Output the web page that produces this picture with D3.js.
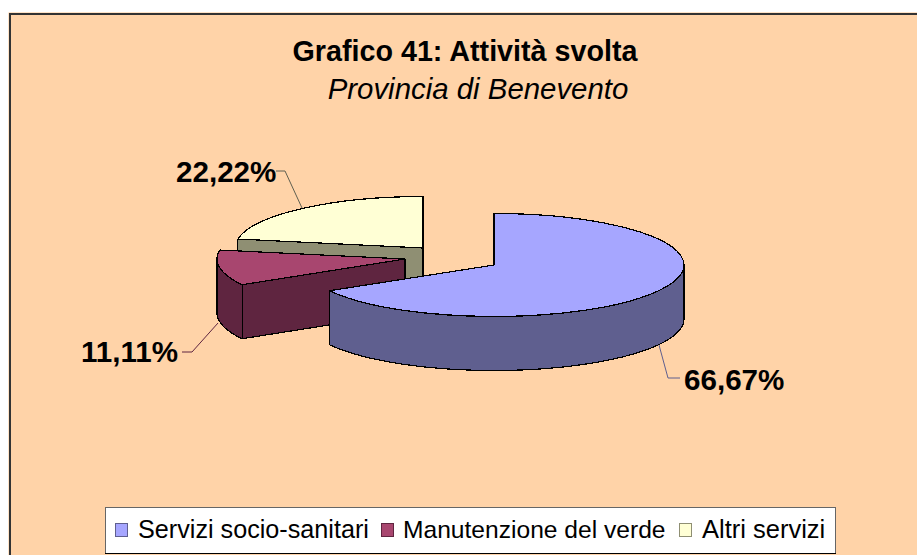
<!DOCTYPE html>
<html lang="en">
<head>
<meta charset="UTF-8">
<title>Grafico 41</title>
<script src="https://cdn.jsdelivr.net/npm/d3@7"></script>
<style>
	html, body { margin: 0; padding: 0; background: #fff; }
	svg { display: block; font-family: "Liberation Sans", Arial, sans-serif; }
</style>
</head>
<body>
<svg id="viz" width="917" height="555"></svg>
<script>
// Data
const categories = ['Servizi socio-sanitari', 'Manutenzione del verde', 'Altri servizi'];
const shares = [66.67, 11.11, 22.22];
const shareLabels = ['66,67%', '11,11%', '22,22%'];

// Styles
const topColors = ['#a6a6ff', '#a8466f', '#ffffd5'];
const sideColors = ['#5f5f8f', '#5f2540', '#8f8f73'];
const leaderColors = ['#5f5f8f', '#5f2540', '#5f5f50'];
const radii = [190, 188, 188];
const ry = 51.5, depth = 54;
const centers = [[494, 265], [405, 259], [423, 248]];
const labelPos = [[684, 390], [81, 362], [176, 182]];
const leaders = [
	[[659, 345], [668, 378], [680, 378]],
	[[218, 323], [192, 352], [182, 352]],
	[[302, 208], [285, 171], [276, 171]]
];

const svg = d3.select('#viz');

// Background frame
svg.append('rect').attr('x', 9).attr('y', 13).attr('width', 920).attr('height', 560)
	.attr('fill', '#ffd3a8').attr('stroke', '#ffc890').attr('stroke-width', 1);
svg.append('rect').attr('x', 10).attr('y', 14).attr('width', 920).attr('height', 560)
	.attr('fill', 'none').attr('stroke', '#333').attr('stroke-width', 2);

// Titles
svg.append('text').attr('x', 465).attr('y', 61).attr('text-anchor', 'middle')
	.style('font-size', '28.7px').style('font-weight', 'bold').text('Grafico 41: Attività svolta');
svg.append('text').attr('x', 478).attr('y', 99).attr('text-anchor', 'middle')
	.style('font-size', '29.4px').style('font-style', 'italic').text('Provincia di Benevento');

// Pie geometry
const pie = d3.pie().sort(null);
const slices = pie(shares);
const point = (a, i) => [
	centers[i][0] + radii[i] * Math.sin(a),
	centers[i][1] - ry * Math.cos(a)
];

// outer wall between two angles, sampled along the ellipse
function wallPath(a0, a1, i) {
	const n = 48;
	const front = d3.range(n + 1).map(k => point(a0 + (a1 - a0) * k / n, i));
	const back = front.map(p => [p[0], p[1] + depth]).reverse();
	return d3.line()(front.concat(back)) + 'Z';
}
function facePath(a, i) {
	const c = centers[i], p = point(a, i);
	return d3.line()([c, p, [p[0], p[1] + depth], [c[0], c[1] + depth]]) + 'Z';
}

const marks = svg.append('g').attr('stroke', '#000').attr('stroke-width', 1.2)
	.attr('stroke-linejoin', 'round').attr('shape-rendering', 'crispEdges');

function drawSlice(i, walls) {
	walls.forEach(w => {
		marks.append('path').attr('d', w).attr('fill', sideColors[i]);
	});
	marks.append('path')
		.attr('d', d3.arc().innerRadius(0).outerRadius(radii[i])(slices[i]))
		.attr('transform', `translate(${centers[i][0]},${centers[i][1]}) scale(1,${ry / radii[i]})`)
		.attr('vector-effect', 'non-scaling-stroke')
		.attr('fill', topColors[i]);
}

// Back to front: yellow, maroon, blue
drawSlice(2, [facePath(slices[2].startAngle, 2), facePath(2 * Math.PI, 2)]);
drawSlice(1, [facePath(slices[1].endAngle, 1), wallPath(slices[1].startAngle, 1.5 * Math.PI, 1), facePath(slices[1].startAngle, 1)]);
drawSlice(0, [facePath(0, 0), wallPath(Math.PI / 2, slices[0].endAngle, 0)]);

// Leader lines and value labels
leaders.forEach((l, i) => {
	svg.append('path').attr('d', d3.line()(l)).attr('fill', 'none')
		.attr('stroke', leaderColors[i]).attr('stroke-width', 1);
	svg.append('text').attr('x', labelPos[i][0]).attr('y', labelPos[i][1])
		.style('font-size', '29.6px').style('font-weight', 'bold')
		.text(shareLabels[i]);
});

// Legend
svg.append('rect').attr('x', 105.5).attr('y', 507.5).attr('width', 730).attr('height', 46)
	.attr('fill', '#fff').attr('stroke', '#666').attr('stroke-width', 1);
svg.append('line').attr('x1', 105).attr('x2', 836).attr('y1', 553.5).attr('y2', 553.5)
	.attr('stroke', '#000').attr('stroke-width', 1);
const legendSwatchX = [115, 381, 679];
const legendTextX = [138, 403, 702];
const legendTextSize = [25.2, 24.6, 25.5];
categories.forEach((c, i) => {
	svg.append('rect').attr('x', legendSwatchX[i] + 0.5).attr('y', 523.5).attr('width', 12).attr('height', 13)
		.attr('fill', topColors[i]).attr('stroke', sideColors[i]).attr('stroke-width', 1);
	svg.append('text').attr('x', legendTextX[i]).attr('y', 538)
		.style('font-size', legendTextSize[i] + 'px').text(c);
});
</script>
</body>
</html>
